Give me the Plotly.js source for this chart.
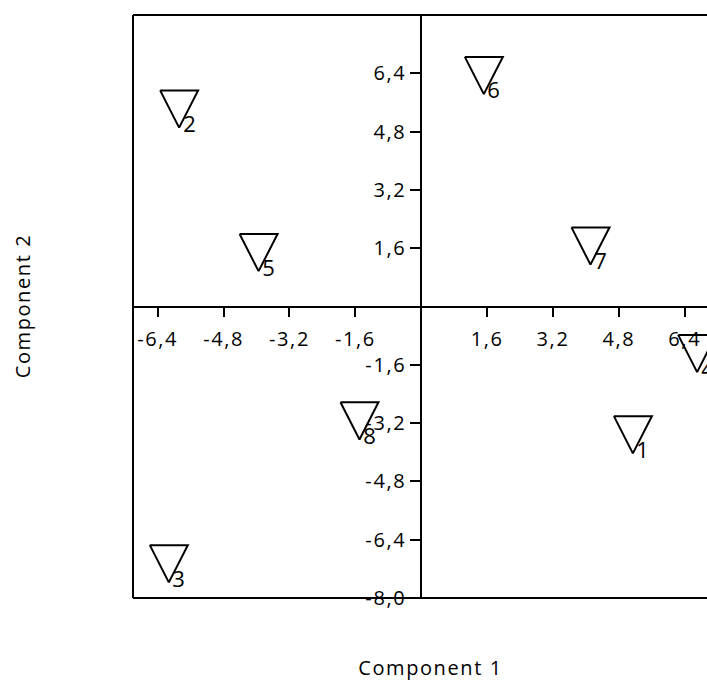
<!DOCTYPE html>
<html>
<head>
<meta charset="utf-8">
<script src="https://cdn.plot.ly/plotly-3.0.1.min.js"></script>
<style>
  html, body { margin: 0; padding: 0; background: #fff; overflow: hidden; }
  #chart text { letter-spacing: 1.6px; }
</style>
</head>
<body>
<div id="chart"></div>
<script>
// ---- data ----
const caseLabels = ["1", "2", "3", "4", "5", "6", "7", "8"];
const component1 = [5.14, -5.88, -6.13, 6.70, -3.95, 1.52, 4.11, -1.50];
const component2 = [-3.52, 5.42, -7.06, -1.29, 1.48, 6.34, 1.66, -3.14];
const xTickVals = [-6.4, -4.8, -3.2, -1.6, 1.6, 3.2, 4.8, 6.4];
const xTickText = ["-6,4", "-4,8", "-3,2", "-1,6", "1,6", "3,2", "4,8", "6,4"];
const yTickVals = [6.4, 4.8, 3.2, 1.6, -1.6, -3.2, -4.8, -6.4, -8.0];
const yTickText = ["6,4", "4,8", "3,2", "1,6", "-1,6", "-3,2", "-4,8", "-6,4", "-8,0"];
const xTitle = "Component 1";
const yTitle = "Component 2";

// ---- layout geometry ----
const W = 707, H = 683;
const M = { l: 133, r: 0, t: 15, b: 85 };
const xRange = [-7.0, 6.94];
const yRange = [-8.0, 8.0];
const pxPerX = (W - M.l - M.r) / (xRange[1] - xRange[0]);
const pxPerY = (H - M.t - M.b) / (yRange[1] - yRange[0]);

// open downward triangle marker (pixel size -> data units via axis scale)
const triHalfW = 19.0 / pxPerX;
const triHalfH = 18.6 / pxPerY;
const triX = [], triY = [];
component1.forEach((x, i) => {
  const y = component2[i];
  triX.push(x - triHalfW, x + triHalfW, x, x - triHalfW, null);
  triY.push(y + triHalfH, y + triHalfH, y - triHalfH, y + triHalfH, null);
});

const font = "'Open Sans', 'Noto Sans', sans-serif";

const traces = [
  {
    x: triX, y: triY, type: "scatter", mode: "lines",
    line: { color: "#000", width: 2 }, hoverinfo: "skip", showlegend: false
  },
  {
    x: component1, y: component2, type: "scatter", mode: "markers",
    marker: { size: 1, color: "rgba(0,0,0,0)" }, text: caseLabels,
    hoverinfo: "text+x+y", showlegend: false
  }
];

const annotations = caseLabels.map((t, i) => ({
  x: component1[i], y: component2[i], xref: "x", yref: "y",
  text: t, showarrow: false, xshift: 11, yshift: -14,
  font: { family: font, size: 22, color: "#000" }
}));
annotations.push({
  xref: "paper", yref: "paper", x: (430 - M.l) / (W - M.l - M.r), y: (H - M.b - 667) / (H - M.t - M.b),
  text: xTitle, showarrow: false, xanchor: "center", yanchor: "middle",
  font: { family: font, size: 20, color: "#000" }
});
annotations.push({
  xref: "paper", yref: "paper", x: (22 - M.l) / (W - M.l - M.r), y: 0.5,
  text: yTitle, showarrow: false, textangle: -90, xanchor: "center", yanchor: "middle",
  font: { family: font, size: 20, color: "#000" }
});

const tickFont = { family: font, size: 20, color: "#000" };

const layout = {
  width: W, height: H,
  margin: M,
  paper_bgcolor: "#fff", plot_bgcolor: "#fff",
  showlegend: false,
  font: { family: font, size: 20, color: "#000" },
  xaxis: {
    range: xRange, anchor: "free", position: 0.5,
    showgrid: false, zeroline: false,
    showline: true, linecolor: "#000", linewidth: 2,
    ticks: "outside", ticklen: 9, tickwidth: 2, tickcolor: "#000",
    ticklabelstandoff: 5,
    tickmode: "array", tickvals: xTickVals, ticktext: xTickText,
    tickfont: tickFont
  },
  yaxis: {
    range: yRange, anchor: "free", position: (0 - xRange[0]) / (xRange[1] - xRange[0]),
    showgrid: false, zeroline: false,
    showline: true, linecolor: "#000", linewidth: 2,
    ticks: "outside", ticklen: 10, tickwidth: 2, tickcolor: "#000",
    tickmode: "array", tickvals: yTickVals, ticktext: yTickText,
    tickfont: tickFont
  },
  shapes: [
    { type: "line", xref: "paper", yref: "paper", x0: 0, x1: 0, y0: 0, y1: 1, line: { color: "#000", width: 2 } },
    { type: "line", xref: "paper", yref: "paper", x0: 0, x1: 1, y0: 1, y1: 1, line: { color: "#000", width: 2 } },
    { type: "line", xref: "paper", yref: "paper", x0: 0, x1: 1, y0: 0, y1: 0, line: { color: "#000", width: 2 } }
  ],
  annotations: annotations
};

Plotly.newPlot("chart", traces, layout, { displayModeBar: false, staticPlot: true });
</script>
</body>
</html>
